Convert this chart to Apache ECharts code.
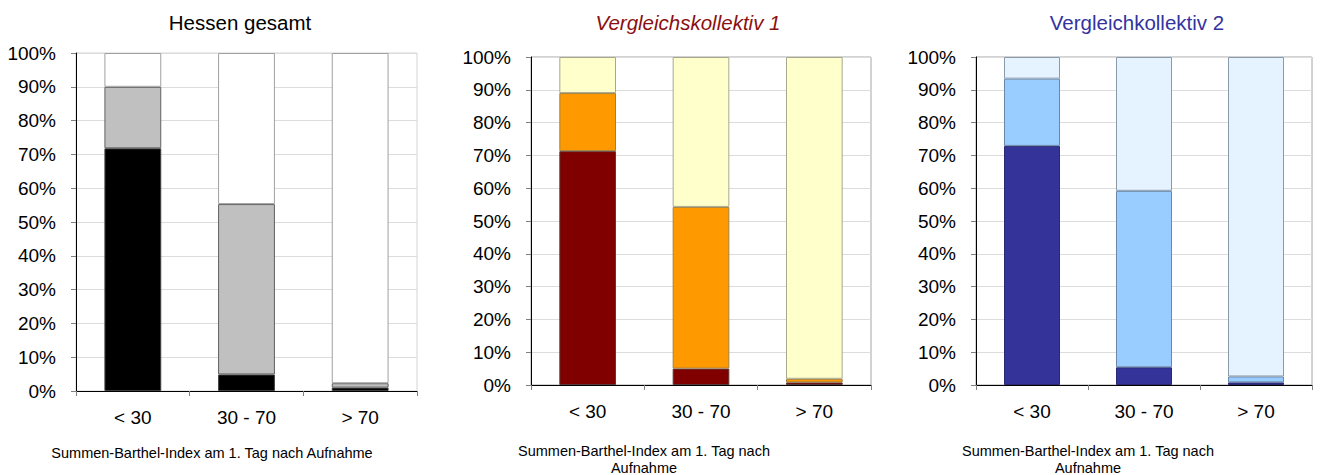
<!DOCTYPE html>
<html>
<head>
<meta charset="utf-8">
<script src="https://cdn.jsdelivr.net/npm/echarts@6/dist/echarts.min.js"></script>
<style>
  html, body { margin: 0; padding: 0; background: #fff; }
  #chart { width: 1322px; height: 475px; }
</style>
</head>
<body>
<div id="chart"></div>
<script>
// Kategorien (Summen-Barthel-Index)
const categories = ["< 30", "30 - 70", "> 70"];
const yTicks = [0, 10, 20, 30, 40, 50, 60, 70, 80, 90, 100];

// Hessen gesamt (Anteile in %, gestapelt)
const hessenBottom = [71.8, 4.9, 1.0];
const hessenMiddle = [18.2, 50.4, 1.3];
const hessenTop = [10.0, 44.7, 97.7];

// Vergleichskollektiv 1
const vk1Bottom = [71.3, 5.0, 0.8];
const vk1Middle = [17.7, 49.3, 1.1];
const vk1Top = [11.0, 45.7, 98.1];

// Vergleichkollektiv 2
const vk2Bottom = [72.9, 5.4, 0.8];
const vk2Middle = [20.5, 53.8, 1.8];
const vk2Top = [6.6, 40.8, 97.4];

const titles = ["Hessen gesamt", "Vergleichskollektiv 1", "Vergleichkollektiv 2"];
const axisName = "Summen-Barthel-Index am 1. Tag nach Aufnahme";

const FONT = "'Liberation Sans', Arial, sans-serif";

const grids = [
  { left: 76, top: 53, width: 341, height: 338, borderColor: "#D4D4D4" },
  { left: 531, top: 57, width: 340, height: 328, borderColor: "#A6A6A6" },
  { left: 976, top: 57, width: 336, height: 328, borderColor: "#A6A6A6" },
];

const makeX = (i) => ({
  type: "category",
  gridIndex: i,
  data: categories,
  axisLine: { lineStyle: { color: "#000", width: 1 } },
  axisTick: { show: true, length: 5, inside: false, lineStyle: { color: "#808080" } },
  axisLabel: { color: "#000", fontSize: 19, fontFamily: FONT, margin: 17 },
  splitLine: { show: false },
});

const makeY = (i) => ({
  type: "value",
  gridIndex: i,
  min: 0,
  max: 100,
  interval: 10,
  axisLine: { show: true, lineStyle: { color: "#000", width: 1 } },
  axisTick: { show: true, length: 5, lineStyle: { color: "#808080" } },
  axisLabel: {
    color: "#000",
    fontSize: 19,
    fontFamily: FONT,
    margin: 20,
    formatter: (v) => (yTicks.indexOf(v) >= 0 ? v + "%" : ""),
  },
  splitLine: { show: true, lineStyle: { color: "#DCDCDC", width: 1 } },
});

const makeBar = (i, data, color, border) => ({
  type: "bar",
  xAxisIndex: i,
  yAxisIndex: i,
  stack: "s" + i,
  barWidth: "50%",
  data: data,
  silent: true,
  itemStyle: { color: color, borderColor: border, borderWidth: 1 },
});

const txt = (x, y, text, fill, size, extra) => ({
  type: "text",
  x: x,
  y: y,
  style: Object.assign({
    text: text, fill: fill, fontSize: size, fontFamily: FONT,
    align: "center", verticalAlign: "middle", textAlign: "center", textVerticalAlign: "middle",
  }, extra || {}),
});

const option = {
  animation: false,
  backgroundColor: "#fff",
  grid: grids.map((g) => ({
    left: g.left,
    top: g.top,
    width: g.width,
    height: g.height,
    containLabel: false,
    show: true,
    borderColor: g.borderColor,
    borderWidth: 1,
    backgroundColor: "transparent",
  })),
  xAxis: [makeX(0), makeX(1), makeX(2)],
  yAxis: [makeY(0), makeY(1), makeY(2)],
  series: [
    makeBar(0, hessenBottom, "#000000", "#404040"),
    makeBar(0, hessenMiddle, "#C0C0C0", "#606060"),
    makeBar(0, hessenTop, "#FFFFFF", "#A0A0A0"),
    makeBar(1, vk1Bottom, "#800000", "#5A3A3A"),
    makeBar(1, vk1Middle, "#FF9900", "#A08040"),
    makeBar(1, vk1Top, "#FFFFCC", "#A8A890"),
    makeBar(2, vk2Bottom, "#333399", "#2A2A70"),
    makeBar(2, vk2Middle, "#99CCFF", "#6A89A8"),
    makeBar(2, vk2Top, "#E5F2FF", "#8A9AAA"),
  ],
  graphic: [
    txt(240, 22, titles[0], "#000", 20.5),
    txt(688, 22, titles[1], "#8B1010", 20.5, { fontStyle: "italic" }),
    txt(1137, 22, titles[2], "#3333A0", 20.5),
    txt(212, 453, axisName, "#000", 14.5),
    txt(644, 459, "Summen-Barthel-Index am 1. Tag nach\nAufnahme", "#000", 14.5, { lineHeight: 17 }),
    txt(1088, 459, "Summen-Barthel-Index am 1. Tag nach\nAufnahme", "#000", 14.5, { lineHeight: 17 }),
  ],
};

const myChart = echarts.init(document.getElementById("chart"), null, { renderer: "svg" });
myChart.setOption(option);
</script>
</body>
</html>
